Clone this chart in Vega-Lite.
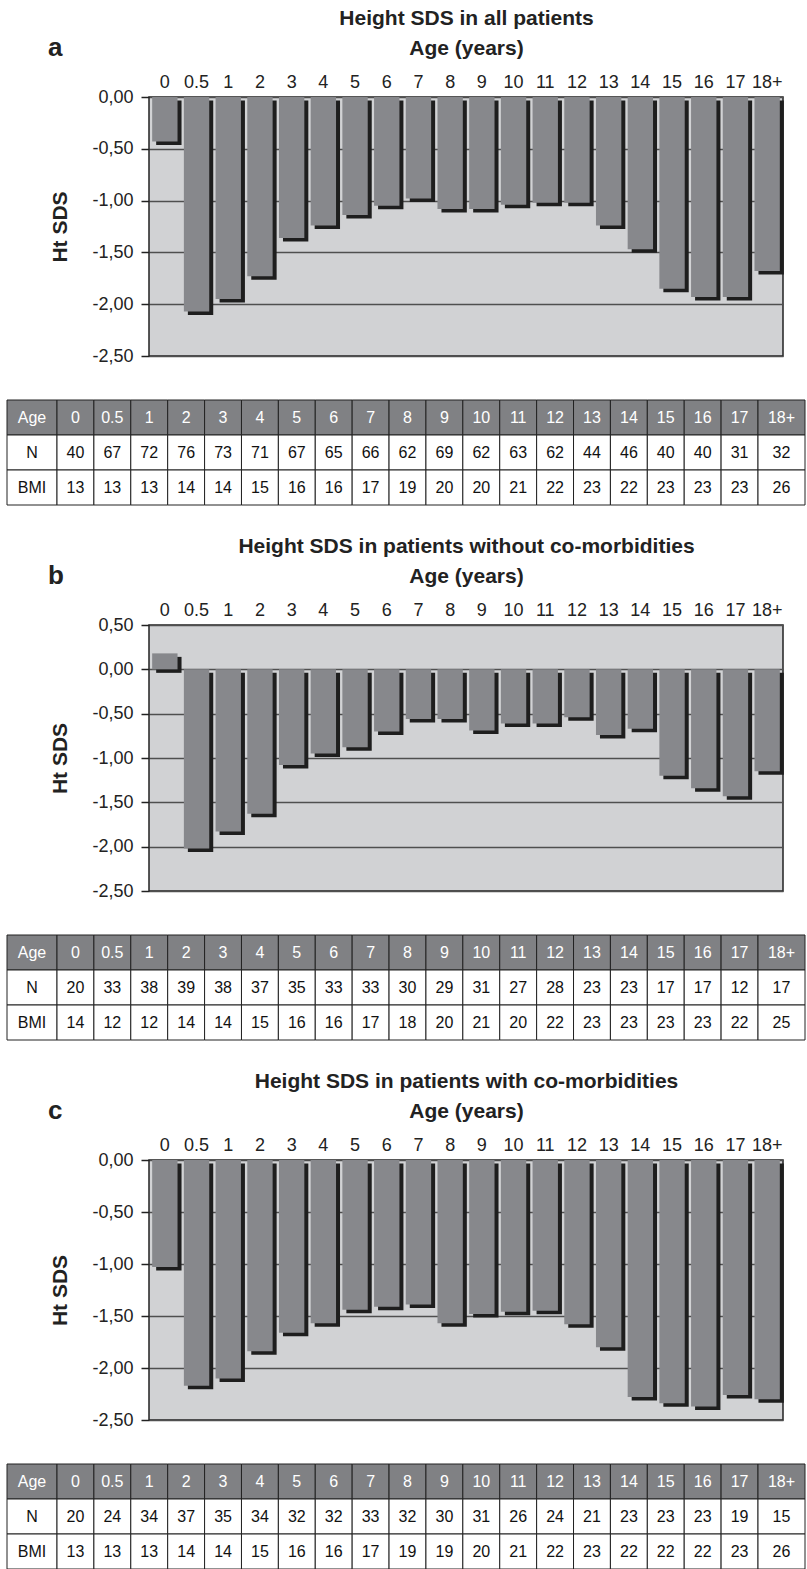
{
  "$schema": "https://vega.github.io/schema/vega-lite/v6.json",
  "background": "white",
  "padding": {"left": 6, "top": 6, "right": 0, "bottom": 0},
  "config": {
    "font": "Liberation Sans",
    "view": {"stroke": null},
    "axisY": {"labelFontSize": 18, "labelColor": "#222", "tickSize": 8, "tickColor": "#222", "tickWidth": 1.5, "domain": false, "gridColor": "#4f4f4f", "gridWidth": 1.5, "gridOpacity": 1, "labelPadding": 8, "titleFontSize": 21, "titleFontWeight": "bold", "titleColor": "#222", "titlePadding": 21},
    "axisX": {"domain": false, "ticks": false, "grid": false, "labelFontSize": 18, "labelAngle": 0, "labelPadding": 6, "labelColor": "#222", "titleFontSize": 21, "titleFontWeight": "bold", "titleColor": "#222", "titleLineHeight": 30, "titlePadding": 15},
    "title": {"fontSize": 26, "fontWeight": "bold", "color": "#222"}
  },
  "data": {"values": [
    {"p":"a","Age":"0","sds":-0.43,"N":40,"BMI":13},
    {"p":"a","Age":"0.5","sds":-2.07,"N":67,"BMI":13},
    {"p":"a","Age":"1","sds":-1.95,"N":72,"BMI":13},
    {"p":"a","Age":"2","sds":-1.73,"N":76,"BMI":14},
    {"p":"a","Age":"3","sds":-1.36,"N":73,"BMI":14},
    {"p":"a","Age":"4","sds":-1.24,"N":71,"BMI":15},
    {"p":"a","Age":"5","sds":-1.14,"N":67,"BMI":16},
    {"p":"a","Age":"6","sds":-1.05,"N":65,"BMI":16},
    {"p":"a","Age":"7","sds":-0.98,"N":66,"BMI":17},
    {"p":"a","Age":"8","sds":-1.08,"N":62,"BMI":19},
    {"p":"a","Age":"9","sds":-1.08,"N":69,"BMI":20},
    {"p":"a","Age":"10","sds":-1.04,"N":62,"BMI":20},
    {"p":"a","Age":"11","sds":-1.02,"N":63,"BMI":21},
    {"p":"a","Age":"12","sds":-1.02,"N":62,"BMI":22},
    {"p":"a","Age":"13","sds":-1.24,"N":44,"BMI":23},
    {"p":"a","Age":"14","sds":-1.47,"N":46,"BMI":22},
    {"p":"a","Age":"15","sds":-1.85,"N":40,"BMI":23},
    {"p":"a","Age":"16","sds":-1.93,"N":40,"BMI":23},
    {"p":"a","Age":"17","sds":-1.93,"N":31,"BMI":23},
    {"p":"a","Age":"18+","sds":-1.68,"N":32,"BMI":26},
    {"p":"b","Age":"0","sds":0.18,"N":20,"BMI":14},
    {"p":"b","Age":"0.5","sds":-2.02,"N":33,"BMI":12},
    {"p":"b","Age":"1","sds":-1.83,"N":38,"BMI":12},
    {"p":"b","Age":"2","sds":-1.63,"N":39,"BMI":14},
    {"p":"b","Age":"3","sds":-1.08,"N":38,"BMI":14},
    {"p":"b","Age":"4","sds":-0.95,"N":37,"BMI":15},
    {"p":"b","Age":"5","sds":-0.88,"N":35,"BMI":16},
    {"p":"b","Age":"6","sds":-0.70,"N":33,"BMI":16},
    {"p":"b","Age":"7","sds":-0.56,"N":33,"BMI":17},
    {"p":"b","Age":"8","sds":-0.56,"N":30,"BMI":18},
    {"p":"b","Age":"9","sds":-0.69,"N":29,"BMI":20},
    {"p":"b","Age":"10","sds":-0.61,"N":31,"BMI":21},
    {"p":"b","Age":"11","sds":-0.61,"N":27,"BMI":20},
    {"p":"b","Age":"12","sds":-0.54,"N":28,"BMI":22},
    {"p":"b","Age":"13","sds":-0.74,"N":23,"BMI":23},
    {"p":"b","Age":"14","sds":-0.67,"N":23,"BMI":23},
    {"p":"b","Age":"15","sds":-1.20,"N":17,"BMI":23},
    {"p":"b","Age":"16","sds":-1.34,"N":17,"BMI":23},
    {"p":"b","Age":"17","sds":-1.43,"N":12,"BMI":22},
    {"p":"b","Age":"18+","sds":-1.15,"N":17,"BMI":25},
    {"p":"c","Age":"0","sds":-1.03,"N":20,"BMI":13},
    {"p":"c","Age":"0.5","sds":-2.17,"N":24,"BMI":13},
    {"p":"c","Age":"1","sds":-2.10,"N":34,"BMI":13},
    {"p":"c","Age":"2","sds":-1.84,"N":37,"BMI":14},
    {"p":"c","Age":"3","sds":-1.66,"N":35,"BMI":14},
    {"p":"c","Age":"4","sds":-1.57,"N":34,"BMI":15},
    {"p":"c","Age":"5","sds":-1.44,"N":32,"BMI":16},
    {"p":"c","Age":"6","sds":-1.41,"N":32,"BMI":16},
    {"p":"c","Age":"7","sds":-1.39,"N":33,"BMI":17},
    {"p":"c","Age":"8","sds":-1.57,"N":32,"BMI":19},
    {"p":"c","Age":"9","sds":-1.48,"N":30,"BMI":19},
    {"p":"c","Age":"10","sds":-1.46,"N":31,"BMI":20},
    {"p":"c","Age":"11","sds":-1.45,"N":26,"BMI":21},
    {"p":"c","Age":"12","sds":-1.58,"N":24,"BMI":22},
    {"p":"c","Age":"13","sds":-1.80,"N":21,"BMI":23},
    {"p":"c","Age":"14","sds":-2.28,"N":23,"BMI":22},
    {"p":"c","Age":"15","sds":-2.34,"N":23,"BMI":22},
    {"p":"c","Age":"16","sds":-2.37,"N":23,"BMI":22},
    {"p":"c","Age":"17","sds":-2.26,"N":19,"BMI":23},
    {"p":"c","Age":"18+","sds":-2.30,"N":15,"BMI":26}
  ]},
  "spacing": 28,
  "vconcat": [
    {
      "spacing": 33,
      "vconcat": [
        {
          "bounds": "flush", "spacing": 141,
          "hconcat": [
            {"width": 1, "height": 1, "transform": [{"filter": "false"}], "mark": "text", "encoding": {}},
            {
              "width": 634, "height": 259,
              "view": {"fill": "#d1d2d4", "stroke": "#222", "strokeWidth": 1.5},
              "title": {"text": "a", "anchor": "start", "frame": "bounds", "dy": 58, "dx": -2},
              "transform": [{"filter": "datum.p === 'a'"}],
              "encoding": {
                "x": {"field": "Age", "type": "ordinal", "sort": ["0","0.5","1","2","3","4","5","6","7","8","9","10","11","12","13","14","15","16","17","18+"], "scale": {"paddingInner": 0.2, "paddingOuter": 0.1}, "axis": {"orient": "top", "title": ["Height SDS in all patients", "Age (years)"]}},
                "y": {"field": "sds", "type": "quantitative", "scale": {"domain": [-2.5, 0], "nice": false}, "axis": {"values": [0, -0.5, -1, -1.5, -2, -2.5], "labelExpr": "(datum.value < 0 ? '-' : '') + replace(format(abs(datum.value), '.2f'), '.', ',')", "title": "Ht SDS", "titleFontSize": 21}}
              },
              "layer": [
                {"mark": {"type": "bar", "color": "#1e1e1e", "xOffset": 4, "yOffset": 3.5}},
                {"mark": {"type": "bar", "color": "#87888c"}}
              ]
            }
          ]
        },
        {
          "bounds": "flush", "spacing": 0,
          "hconcat": [
            {
              "width": 50, "height": 105,
              "transform": [{"filter": "datum.p === 'a' && datum.Age === '0'"}, {"fold": ["Age", "N", "BMI"], "as": ["row", "val"]}],
              "encoding": {"y": {"field": "row", "type": "nominal", "sort": ["Age", "N", "BMI"], "axis": null, "scale": {"paddingInner": 0, "paddingOuter": 0}}},
              "layer": [
                {"mark": {"type": "rect", "stroke": "#222", "strokeWidth": 1}, "encoding": {"fill": {"condition": {"test": "datum.row === 'Age'", "value": "#808184"}, "value": "white"}}},
                {"mark": {"type": "text", "fontSize": 16}, "encoding": {"text": {"field": "row"}, "color": {"condition": {"test": "datum.row === 'Age'", "value": "white"}, "value": "#111"}}}
              ]
            },
            {
              "width": 701, "height": 105,
              "transform": [{"filter": "datum.p === 'a' && datum.Age !== '18+'"}, {"fold": ["Age", "N", "BMI"], "as": ["row", "val"]}],
              "encoding": {
                "x": {"field": "Age", "type": "ordinal", "sort": ["0","0.5","1","2","3","4","5","6","7","8","9","10","11","12","13","14","15","16","17"], "axis": null, "scale": {"paddingInner": 0, "paddingOuter": 0}},
                "y": {"field": "row", "type": "nominal", "sort": ["Age", "N", "BMI"], "axis": null, "scale": {"paddingInner": 0, "paddingOuter": 0}}
              },
              "layer": [
                {"mark": {"type": "rect", "stroke": "#222", "strokeWidth": 1}, "encoding": {"fill": {"condition": {"test": "datum.row === 'Age'", "value": "#808184"}, "value": "white"}}},
                {"mark": {"type": "text", "fontSize": 16}, "encoding": {"text": {"field": "val", "type": "nominal"}, "color": {"condition": {"test": "datum.row === 'Age'", "value": "white"}, "value": "#111"}}}
              ]
            },
            {
              "width": 47, "height": 105,
              "transform": [{"filter": "datum.p === 'a' && datum.Age === '18+'"}, {"fold": ["Age", "N", "BMI"], "as": ["row", "val"]}],
              "encoding": {"y": {"field": "row", "type": "nominal", "sort": ["Age", "N", "BMI"], "axis": null, "scale": {"paddingInner": 0, "paddingOuter": 0}}},
              "layer": [
                {"mark": {"type": "rect", "stroke": "#222", "strokeWidth": 1}, "encoding": {"fill": {"condition": {"test": "datum.row === 'Age'", "value": "#808184"}, "value": "white"}}},
                {"mark": {"type": "text", "fontSize": 16}, "encoding": {"text": {"field": "val", "type": "nominal"}, "color": {"condition": {"test": "datum.row === 'Age'", "value": "white"}, "value": "#111"}}}
              ]
            }
          ]
        }
      ]
    },
    {
      "spacing": 33,
      "vconcat": [
        {
          "bounds": "flush", "spacing": 141,
          "hconcat": [
            {"width": 1, "height": 1, "transform": [{"filter": "false"}], "mark": "text", "encoding": {}},
            {
              "width": 634, "height": 266,
              "view": {"fill": "#d1d2d4", "stroke": "#222", "strokeWidth": 1.5},
              "title": {"text": "b", "anchor": "start", "frame": "bounds", "dy": 58, "dx": -2},
              "transform": [{"filter": "datum.p === 'b'"}],
              "encoding": {
                "x": {"field": "Age", "type": "ordinal", "sort": ["0","0.5","1","2","3","4","5","6","7","8","9","10","11","12","13","14","15","16","17","18+"], "scale": {"paddingInner": 0.2, "paddingOuter": 0.1}, "axis": {"orient": "top", "title": ["Height SDS in patients without co-morbidities", "Age (years)"]}},
                "y": {"field": "sds", "type": "quantitative", "scale": {"domain": [-2.5, 0.5], "nice": false}, "axis": {"values": [0.5, 0, -0.5, -1, -1.5, -2, -2.5], "labelExpr": "(datum.value < 0 ? '-' : '') + replace(format(abs(datum.value), '.2f'), '.', ',')", "title": "Ht SDS", "titleFontSize": 21}}
              },
              "layer": [
                {"mark": {"type": "bar", "color": "#1e1e1e", "xOffset": 4, "yOffset": 3.5}},
                {"mark": {"type": "bar", "color": "#87888c"}}
              ]
            }
          ]
        },
        {
          "bounds": "flush", "spacing": 0,
          "hconcat": [
            {
              "width": 50, "height": 105,
              "transform": [{"filter": "datum.p === 'b' && datum.Age === '0'"}, {"fold": ["Age", "N", "BMI"], "as": ["row", "val"]}],
              "encoding": {"y": {"field": "row", "type": "nominal", "sort": ["Age", "N", "BMI"], "axis": null, "scale": {"paddingInner": 0, "paddingOuter": 0}}},
              "layer": [
                {"mark": {"type": "rect", "stroke": "#222", "strokeWidth": 1}, "encoding": {"fill": {"condition": {"test": "datum.row === 'Age'", "value": "#808184"}, "value": "white"}}},
                {"mark": {"type": "text", "fontSize": 16}, "encoding": {"text": {"field": "row"}, "color": {"condition": {"test": "datum.row === 'Age'", "value": "white"}, "value": "#111"}}}
              ]
            },
            {
              "width": 701, "height": 105,
              "transform": [{"filter": "datum.p === 'b' && datum.Age !== '18+'"}, {"fold": ["Age", "N", "BMI"], "as": ["row", "val"]}],
              "encoding": {
                "x": {"field": "Age", "type": "ordinal", "sort": ["0","0.5","1","2","3","4","5","6","7","8","9","10","11","12","13","14","15","16","17"], "axis": null, "scale": {"paddingInner": 0, "paddingOuter": 0}},
                "y": {"field": "row", "type": "nominal", "sort": ["Age", "N", "BMI"], "axis": null, "scale": {"paddingInner": 0, "paddingOuter": 0}}
              },
              "layer": [
                {"mark": {"type": "rect", "stroke": "#222", "strokeWidth": 1}, "encoding": {"fill": {"condition": {"test": "datum.row === 'Age'", "value": "#808184"}, "value": "white"}}},
                {"mark": {"type": "text", "fontSize": 16}, "encoding": {"text": {"field": "val", "type": "nominal"}, "color": {"condition": {"test": "datum.row === 'Age'", "value": "white"}, "value": "#111"}}}
              ]
            },
            {
              "width": 47, "height": 105,
              "transform": [{"filter": "datum.p === 'b' && datum.Age === '18+'"}, {"fold": ["Age", "N", "BMI"], "as": ["row", "val"]}],
              "encoding": {"y": {"field": "row", "type": "nominal", "sort": ["Age", "N", "BMI"], "axis": null, "scale": {"paddingInner": 0, "paddingOuter": 0}}},
              "layer": [
                {"mark": {"type": "rect", "stroke": "#222", "strokeWidth": 1}, "encoding": {"fill": {"condition": {"test": "datum.row === 'Age'", "value": "#808184"}, "value": "white"}}},
                {"mark": {"type": "text", "fontSize": 16}, "encoding": {"text": {"field": "val", "type": "nominal"}, "color": {"condition": {"test": "datum.row === 'Age'", "value": "white"}, "value": "#111"}}}
              ]
            }
          ]
        }
      ]
    },
    {
      "spacing": 33,
      "vconcat": [
        {
          "bounds": "flush", "spacing": 141,
          "hconcat": [
            {"width": 1, "height": 1, "transform": [{"filter": "false"}], "mark": "text", "encoding": {}},
            {
              "width": 634, "height": 260,
              "view": {"fill": "#d1d2d4", "stroke": "#222", "strokeWidth": 1.5},
              "title": {"text": "c", "anchor": "start", "frame": "bounds", "dy": 58, "dx": -2},
              "transform": [{"filter": "datum.p === 'c'"}],
              "encoding": {
                "x": {"field": "Age", "type": "ordinal", "sort": ["0","0.5","1","2","3","4","5","6","7","8","9","10","11","12","13","14","15","16","17","18+"], "scale": {"paddingInner": 0.2, "paddingOuter": 0.1}, "axis": {"orient": "top", "title": ["Height SDS in patients with co-morbidities", "Age (years)"]}},
                "y": {"field": "sds", "type": "quantitative", "scale": {"domain": [-2.5, 0], "nice": false}, "axis": {"values": [0, -0.5, -1, -1.5, -2, -2.5], "labelExpr": "(datum.value < 0 ? '-' : '') + replace(format(abs(datum.value), '.2f'), '.', ',')", "title": "Ht SDS", "titleFontSize": 21}}
              },
              "layer": [
                {"mark": {"type": "bar", "color": "#1e1e1e", "xOffset": 4, "yOffset": 3.5}},
                {"mark": {"type": "bar", "color": "#87888c"}}
              ]
            }
          ]
        },
        {
          "bounds": "flush", "spacing": 0,
          "hconcat": [
            {
              "width": 50, "height": 105,
              "transform": [{"filter": "datum.p === 'c' && datum.Age === '0'"}, {"fold": ["Age", "N", "BMI"], "as": ["row", "val"]}],
              "encoding": {"y": {"field": "row", "type": "nominal", "sort": ["Age", "N", "BMI"], "axis": null, "scale": {"paddingInner": 0, "paddingOuter": 0}}},
              "layer": [
                {"mark": {"type": "rect", "stroke": "#222", "strokeWidth": 1}, "encoding": {"fill": {"condition": {"test": "datum.row === 'Age'", "value": "#808184"}, "value": "white"}}},
                {"mark": {"type": "text", "fontSize": 16}, "encoding": {"text": {"field": "row"}, "color": {"condition": {"test": "datum.row === 'Age'", "value": "white"}, "value": "#111"}}}
              ]
            },
            {
              "width": 701, "height": 105,
              "transform": [{"filter": "datum.p === 'c' && datum.Age !== '18+'"}, {"fold": ["Age", "N", "BMI"], "as": ["row", "val"]}],
              "encoding": {
                "x": {"field": "Age", "type": "ordinal", "sort": ["0","0.5","1","2","3","4","5","6","7","8","9","10","11","12","13","14","15","16","17"], "axis": null, "scale": {"paddingInner": 0, "paddingOuter": 0}},
                "y": {"field": "row", "type": "nominal", "sort": ["Age", "N", "BMI"], "axis": null, "scale": {"paddingInner": 0, "paddingOuter": 0}}
              },
              "layer": [
                {"mark": {"type": "rect", "stroke": "#222", "strokeWidth": 1}, "encoding": {"fill": {"condition": {"test": "datum.row === 'Age'", "value": "#808184"}, "value": "white"}}},
                {"mark": {"type": "text", "fontSize": 16}, "encoding": {"text": {"field": "val", "type": "nominal"}, "color": {"condition": {"test": "datum.row === 'Age'", "value": "white"}, "value": "#111"}}}
              ]
            },
            {
              "width": 47, "height": 105,
              "transform": [{"filter": "datum.p === 'c' && datum.Age === '18+'"}, {"fold": ["Age", "N", "BMI"], "as": ["row", "val"]}],
              "encoding": {"y": {"field": "row", "type": "nominal", "sort": ["Age", "N", "BMI"], "axis": null, "scale": {"paddingInner": 0, "paddingOuter": 0}}},
              "layer": [
                {"mark": {"type": "rect", "stroke": "#222", "strokeWidth": 1}, "encoding": {"fill": {"condition": {"test": "datum.row === 'Age'", "value": "#808184"}, "value": "white"}}},
                {"mark": {"type": "text", "fontSize": 16}, "encoding": {"text": {"field": "val", "type": "nominal"}, "color": {"condition": {"test": "datum.row === 'Age'", "value": "white"}, "value": "#111"}}}
              ]
            }
          ]
        }
      ]
    }
  ]
}
